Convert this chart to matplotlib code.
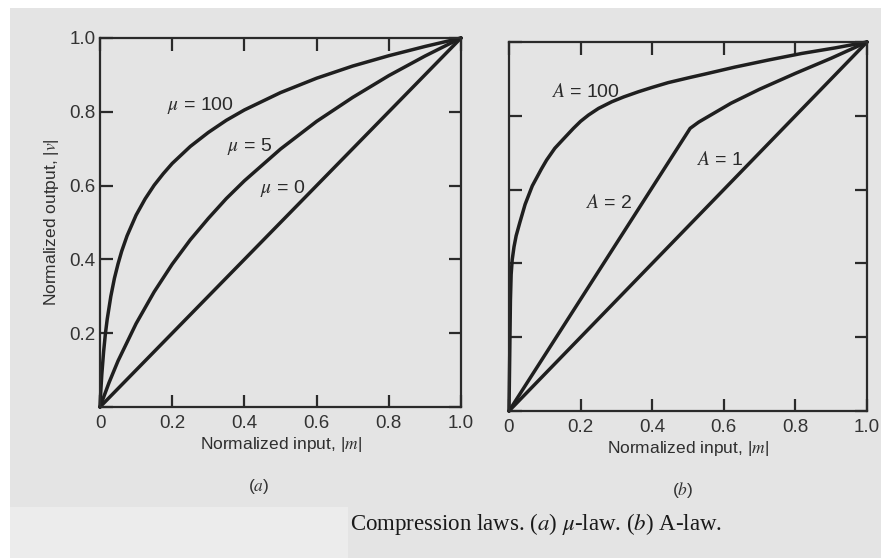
import matplotlib
matplotlib.use("Agg")
import matplotlib.pyplot as plt
from matplotlib.patches import Rectangle

plt.rcParams['mathtext.fontset'] = 'stix'
plt.rcParams['font.family'] = ['Liberation Sans', 'DejaVu Sans']

# ---------------- data ----------------
mu100_x = [0, 0.0025, 0.005, 0.01, 0.015, 0.02, 0.03, 0.04, 0.05, 0.06, 0.075, 0.10,
           0.125, 0.15, 0.175, 0.20, 0.25, 0.30, 0.35, 0.40, 0.50, 0.60, 0.70, 0.80,
           0.90, 1.0]
mu100_y = [0, 0.048, 0.088, 0.150, 0.199, 0.238, 0.300, 0.349, 0.388, 0.422, 0.464,
           0.520, 0.564, 0.601, 0.632, 0.660, 0.706, 0.744, 0.777, 0.805, 0.852, 0.891,
           0.924, 0.952, 0.977, 1.0]
mu5_x = [0, 0.025, 0.05, 0.10, 0.15, 0.20, 0.25, 0.30, 0.35, 0.40, 0.50, 0.60, 0.70,
         0.80, 0.90, 1.0]
mu5_y = [0, 0.066, 0.125, 0.226, 0.312, 0.387, 0.453, 0.511, 0.565, 0.613, 0.699, 0.774,
         0.839, 0.898, 0.951, 1.0]
mu0_x = [0, 1.0]
mu0_y = [0, 1.0]

a100_x = [0, 0.002, 0.004, 0.006, 0.009, 0.014, 0.02, 0.03, 0.045, 0.065, 0.09, 0.105,
          0.128, 0.15, 0.18, 0.20, 0.222, 0.25, 0.287, 0.32, 0.361, 0.40, 0.445, 0.506,
          0.547, 0.631, 0.724, 0.818, 0.911, 1.0]
a100_y = [0, 0.15, 0.30, 0.37, 0.41, 0.445, 0.475, 0.51, 0.56, 0.61, 0.655, 0.68,
          0.712, 0.735, 0.766, 0.785, 0.802, 0.820, 0.838, 0.851, 0.865, 0.877, 0.890,
          0.904, 0.913, 0.932, 0.951, 0.969, 0.984, 1.0]
a2_x = [0, 0.506, 0.53, 0.56, 0.62, 0.70, 0.80, 0.90, 1.0]
a2_y = [0, 0.766, 0.783, 0.800, 0.834, 0.872, 0.915, 0.956, 1.0]
a1_x = [0, 1.0]
a1_y = [0, 1.0]

tick_vals = [0, 0.2, 0.4, 0.6, 0.8, 1.0]
x_tick_labels = ['0', '0.2', '0.4', '0.6', '0.8', '1.0']
y_tick_labels_left = ['', '0.2', '0.4', '0.6', '0.8', '1.0']

mu_labels = [r'$\mu$ = 100', r'$\mu$ = 5', r'$\mu$ = 0']
a_labels = [r'$A$ = 100', r'$A$ = 2', r'$A$ = 1']

# ---------------- figure ----------------
W, H = 881, 558
bg = '#e4e4e4'
ink = '#1f1f1f'
fig = plt.figure(figsize=(W / 100, H / 100), dpi=100, facecolor=bg)

# scan artefacts: white strips on top / left, lighter patch bottom-left
fig.patches.append(Rectangle((0, 1 - 8 / H), 1, 8 / H, transform=fig.transFigure,
                             facecolor='white', edgecolor='none', zorder=0))
fig.patches.append(Rectangle((0, 0), 10 / W, 1, transform=fig.transFigure,
                             facecolor='white', edgecolor='none', zorder=0))
fig.patches.append(Rectangle((10 / W, 0), 338 / W, 51 / H, transform=fig.transFigure,
                             facecolor='#ececec', edgecolor='none', zorder=0))

axL = fig.add_axes([100 / W, 1 - 407 / H, 361 / W, 369 / H])
axR = fig.add_axes([509 / W, 1 - 411 / H, 358 / W, 369 / H])

for ax in (axL, axR):
    ax.set_facecolor('none')
    ax.set_xlim(0, 1)
    ax.set_ylim(0, 1)
    for s in ax.spines.values():
        s.set_linewidth(1.6)
        s.set_color('#2a2a2a')
    ax.set_xticks(tick_vals)
    ax.set_xticklabels(x_tick_labels)
    ax.set_yticks(tick_vals)
    ax.tick_params(direction='in', top=True, right=True, length=9, width=1.6,
                   color='#2a2a2a', labelsize=13.5, labelcolor='#333333')
    ax.tick_params(axis='x', pad=6)
    ax.tick_params(axis='y', pad=3)
    ax.set_xlabel('Normalized input, |$m$|', fontsize=12.5, color='#2e2e2e', labelpad=2)

axL.set_yticklabels(y_tick_labels_left)
axR.set_yticklabels([''] * len(tick_vals))
axL.set_ylabel('Normalized output, |$v$|', fontsize=12.5, color='#2e2e2e', labelpad=6)

lw = 2.5
for xs, ys in ((mu100_x, mu100_y), (mu5_x, mu5_y), (mu0_x, mu0_y)):
    axL.plot(xs, ys, color=ink, lw=lw, solid_joinstyle='round', solid_capstyle='round',
             clip_on=False)
for xs, ys in ((a100_x, a100_y), (a2_x, a2_y), (a1_x, a1_y)):
    axR.plot(xs, ys, color=ink, lw=lw, solid_joinstyle='round', solid_capstyle='round',
             clip_on=False)

lab_kw = dict(ha='center', va='center', fontsize=14, color='#2a2a2a')
for txt, (x, y) in zip(mu_labels, [(0.277, 0.816), (0.413, 0.705), (0.507, 0.593)]):
    axL.text(x, y, txt, **lab_kw)
for txt, (x, y) in zip(a_labels, [(0.215, 0.864), (0.277, 0.564), (0.587, 0.680)]):
    axR.text(x, y, txt, **lab_kw)

fig.text(259 / W, 1 - 486 / H, '($a$)', ha='center', va='center', fontsize=12.5,
         color='#333333')
fig.text(683 / W, 1 - 490 / H, '($b$)', ha='center', va='center', fontsize=12.5,
         color='#333333')
fig.text(536 / W, 1 - 524 / H, r'Compression laws. ($a$) $\mu$-law. ($b$) A-law.',
         ha='center', va='center', fontsize=16.5, color='#1a1a1a',
         family=['Liberation Serif', 'DejaVu Serif'])

fig.savefig('out.png', dpi=100, facecolor=bg)
